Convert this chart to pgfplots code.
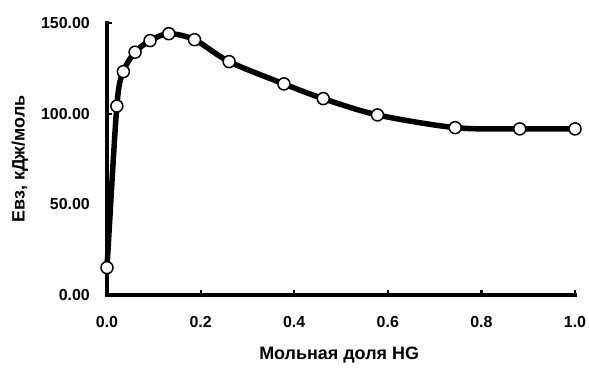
\documentclass[border=0pt]{standalone}
\usepackage{pgfplots}
\pgfplotsset{compat=1.18}
\usepackage{fontspec}
\setmainfont{Liberation Sans}
\begin{document}
\begin{tikzpicture}[x=1bp,y=1bp]
\useasboundingbox (-107,-72) rectangle (482,295);
\begin{axis}[
  at={(0,0)}, anchor=south west,
  scale only axis,
  width=468bp, height=272bp,
  xmin=0, xmax=1, ymin=0, ymax=150,
  axis lines*=left,
  axis line style={line width=3.8bp, line cap=rect},
  xtick={0,0.2,...,1.0},
  ytick={0,50,100,150},
  tick align=inside,
  major tick length=5bp,
  tick style={line width=2.2bp, black},
  /pgf/number format/assume math mode=true,
  xticklabel style={font=\fontsize{16}{18}\selectfont\bfseries, anchor=base, inner sep=0pt, yshift=-32bp, /pgf/number format/.cd, fixed, fixed zerofill, precision=1},
  yticklabel style={font=\fontsize{16}{18}\selectfont\bfseries, anchor=east, inner sep=0pt, xshift=-17bp, /pgf/number format/.cd, fixed, fixed zerofill, precision=2},
  scaled y ticks=false,
  xlabel={Мольная доля HG},
  ylabel={Eвз, кДж/моль},
  label style={font=\fontsize{18}{20}\selectfont\bfseries},
  xlabel style={at={(axis description cs:0.496,-0.2206)}, anchor=center},
  ylabel style={at={(axis description cs:-0.186,0.5)}, anchor=center, rotate=0},
  clip=false,
]
\addplot[black, line width=5.5bp, smooth, tension=0.5, mark=*, mark size=6bp,
  mark options={fill=white, draw=black, line width=1.5bp}]
coordinates {
(0.000,15.1)
(0.021,104.2)
(0.035,123.2)
(0.060,133.9)
(0.092,140.3)
(0.132,144.1)
(0.187,140.8)
(0.261,128.7)
(0.378,116.4)
(0.462,108.3)
(0.578,99.3)
(0.744,92.3)
(0.882,91.6)
(1.000,91.6)
};
\end{axis}
\end{tikzpicture}
\end{document}
